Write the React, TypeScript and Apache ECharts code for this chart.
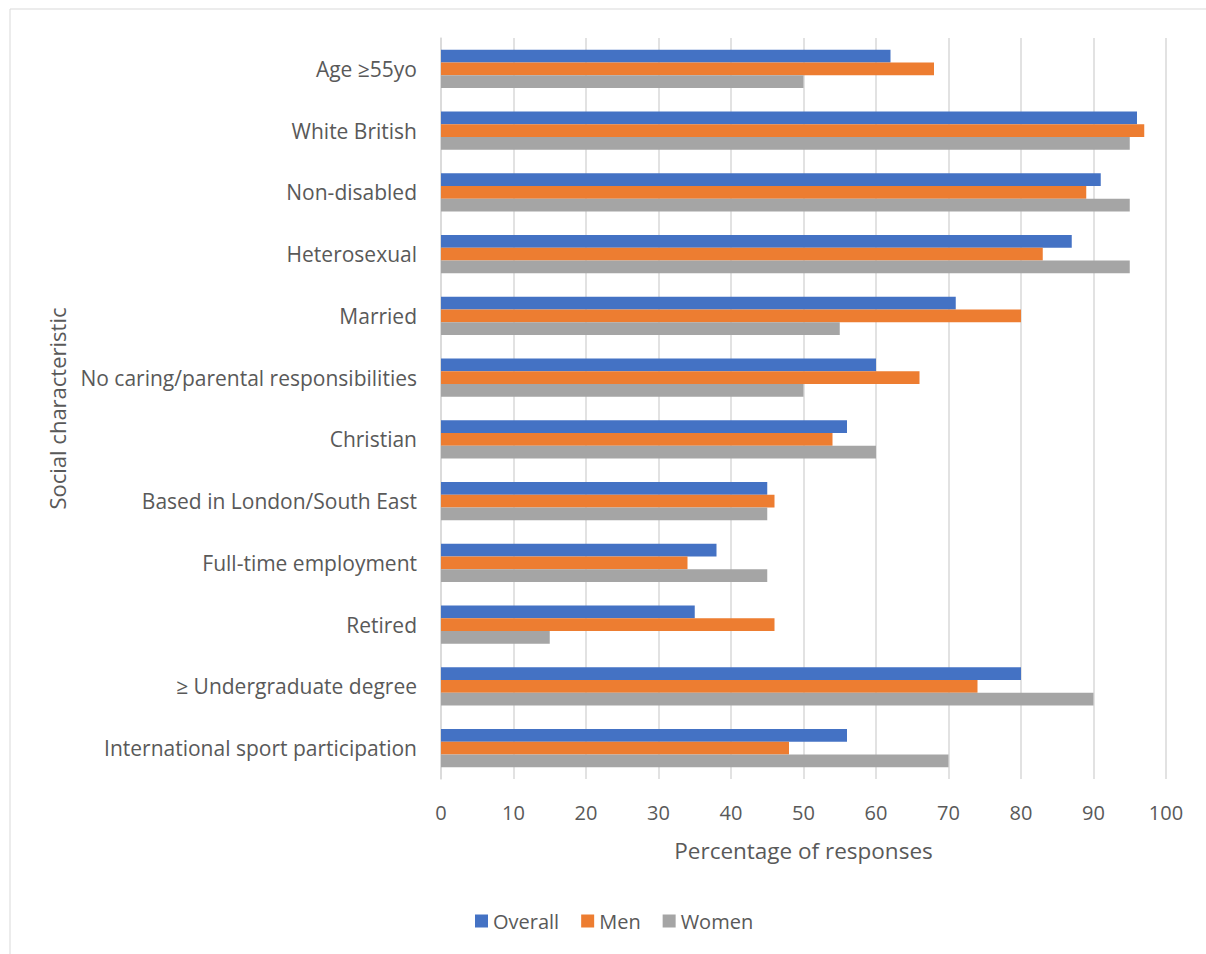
import React, { useEffect, useRef } from "react";
import * as echarts from "echarts";

const categories = [
  "Age ≥55yo",
  "White British",
  "Non-disabled",
  "Heterosexual",
  "Married",
  "No caring/parental responsibilities",
  "Christian",
  "Based in London/South East",
  "Full-time employment",
  "Retired",
  "≥ Undergraduate degree",
  "International sport participation",
];
const overall = [62, 96, 91, 87, 71, 60, 56, 45, 38, 35, 80, 56];
const men = [68, 97, 89, 83, 80, 66, 54, 46, 34, 46, 74, 48];
const women = [50, 95, 95, 95, 55, 50, 60, 45, 45, 15, 90, 70];
const xTicks = [0, 10, 20, 30, 40, 50, 60, 70, 80, 90, 100];

const FONT = "Open Sans";
const TEXT = "#595959";

export default function App() {
  const ref = useRef<HTMLDivElement>(null);
  useEffect(() => {
    document.body.style.margin = "0";
    const chart = echarts.init(ref.current!, null, { renderer: "svg" });
    const bar = (name: string, data: number[], color: string) => ({
      name,
      type: "bar",
      data,
      barGap: "0%",
      barCategoryGap: "38%",
      itemStyle: { color },
    });
    chart.setOption({
      animation: false,
      backgroundColor: "#ffffff",
      textStyle: { fontFamily: FONT },
      graphic: [
        {
          type: "rect",
          shape: { x: 10, y: 9, width: 1400, height: 1200 },
          style: { fill: "none", stroke: "#d9d9d9", lineWidth: 1 },
          silent: true,
        },
      ],
      legend: {
        top: 906,
        left: 470,
        itemWidth: 13,
        itemHeight: 13,
        itemGap: 22,
        icon: "rect",
        textStyle: { fontFamily: FONT, fontSize: 20, color: TEXT },
        data: ["Overall", "Men", "Women"],
      },
      grid: { left: 441, right: 40, top: 38, bottom: 175 },
      xAxis: {
        type: "value",
        min: xTicks[0],
        max: xTicks[xTicks.length - 1],
        interval: 10,
        name: "Percentage of responses",
        nameLocation: "middle",
        nameGap: 60,
        nameTextStyle: { fontFamily: FONT, fontSize: 22.5, color: TEXT },
        axisLabel: { fontFamily: FONT, fontSize: 20, color: TEXT, margin: 23 },
        axisLine: { show: false },
        axisTick: { show: false },
        splitLine: { show: true, lineStyle: { color: "#d9d9d9", width: 1.5 } },
      },
      yAxis: {
        type: "category",
        data: categories,
        inverse: true,
        name: "Social characteristic",
        nameLocation: "middle",
        nameGap: 373,
        nameRotate: 90,
        nameTextStyle: { fontFamily: FONT, fontSize: 22, color: TEXT },
        axisLabel: { fontFamily: FONT, fontSize: 21, color: TEXT, margin: 24 },
        axisLine: { show: true, lineStyle: { color: "#d9d9d9", width: 1.5 } },
        axisTick: { show: false },
        splitLine: { show: false },
      },
      series: [
        bar("Overall", overall, "#4472c4"),
        bar("Men", men, "#ed7d31"),
        bar("Women", women, "#a5a5a5"),
      ],
    });
    return () => chart.dispose();
  }, []);
  return <div ref={ref} style={{ width: 1206, height: 954 }} />;
}
